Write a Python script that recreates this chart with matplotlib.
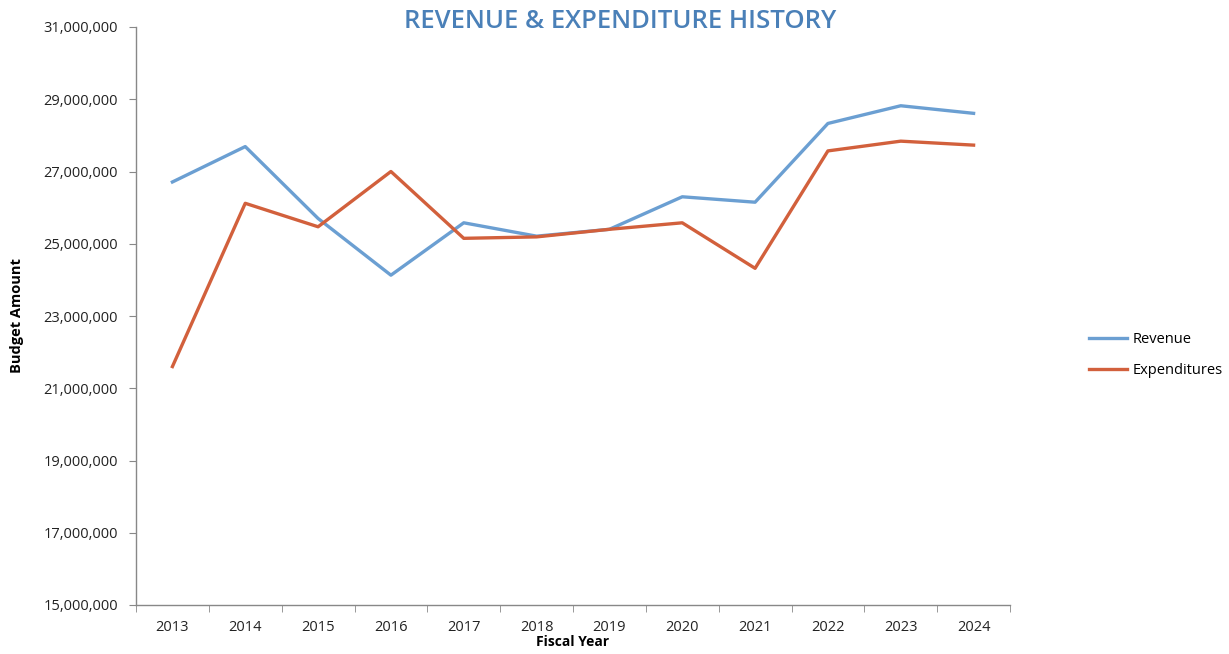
import matplotlib
matplotlib.use("Agg")
import matplotlib.pyplot as plt
import numpy as np
from matplotlib.ticker import FuncFormatter, FixedLocator

years = ["2013", "2014", "2015", "2016", "2017", "2018",
         "2019", "2020", "2021", "2022", "2023", "2024"]
revenue = [26710000, 27690000, 25700000, 24130000, 25580000, 25210000,
           25400000, 26300000, 26150000, 28330000, 28820000, 28610000]
expenditures = [21600000, 26120000, 25470000, 27000000, 25150000, 25190000,
                25400000, 25580000, 24320000, 27570000, 27840000, 27730000]

plt.rcParams['font.family'] = ['Open Sans', 'DejaVu Sans']

fig = plt.figure(figsize=(12.29, 6.54), dpi=100)
ax = fig.add_axes([136 / 1229, 1 - 605 / 654, (1010 - 136) / 1229, (605 - 27) / 654])

x = np.arange(len(years))
ax.plot(x, revenue, color="#6b9fd2", lw=2.4, label="Revenue")
ax.plot(x, expenditures, color="#d2603c", lw=2.4, label="Expenditures")

ax.set_xlim(-0.5, len(years) - 0.5)
ax.set_ylim(15000000, 31000000)
ax.set_yticks(np.arange(15000000, 31000001, 2000000))
ax.yaxis.set_major_formatter(FuncFormatter(lambda v, p: f"{int(v):,}"))

# category labels sit between tick marks
ax.xaxis.set_major_locator(FixedLocator(x))
ax.set_xticklabels(years)
ax.xaxis.set_minor_locator(FixedLocator(np.arange(-0.5, len(years), 1.0)))
ax.tick_params(axis="x", which="major", length=0, pad=11, labelsize=10.5, colors="#222222")
ax.tick_params(axis="x", which="minor", length=5, color="#888888")
ax.tick_params(axis="y", length=5, color="#888888", labelsize=10.5, labelcolor="#222222", pad=8)

for s in ["top", "right"]:
    ax.spines[s].set_visible(False)
for s in ["left", "bottom"]:
    ax.spines[s].set_color("#888888")
    ax.spines[s].set_linewidth(1.0)

ax.set_xlabel("Fiscal Year", fontsize=10, fontweight="bold", labelpad=0)
ax.set_ylabel("Budget Amount", fontsize=10.5, fontweight="bold", labelpad=14)

fig.text(620 / 1229, 1 - 21 / 654, "REVENUE & EXPENDITURE HISTORY",
         ha="center", va="center", fontsize=18.5, fontweight="semibold", color="#4a80b8")

ax.legend(loc="center left", bbox_to_anchor=(1.075, 0.433), frameon=False,
          fontsize=10.5, handlelength=2.6, labelspacing=1.1, handletextpad=0.4)

fig.savefig("out.png", dpi=100)
